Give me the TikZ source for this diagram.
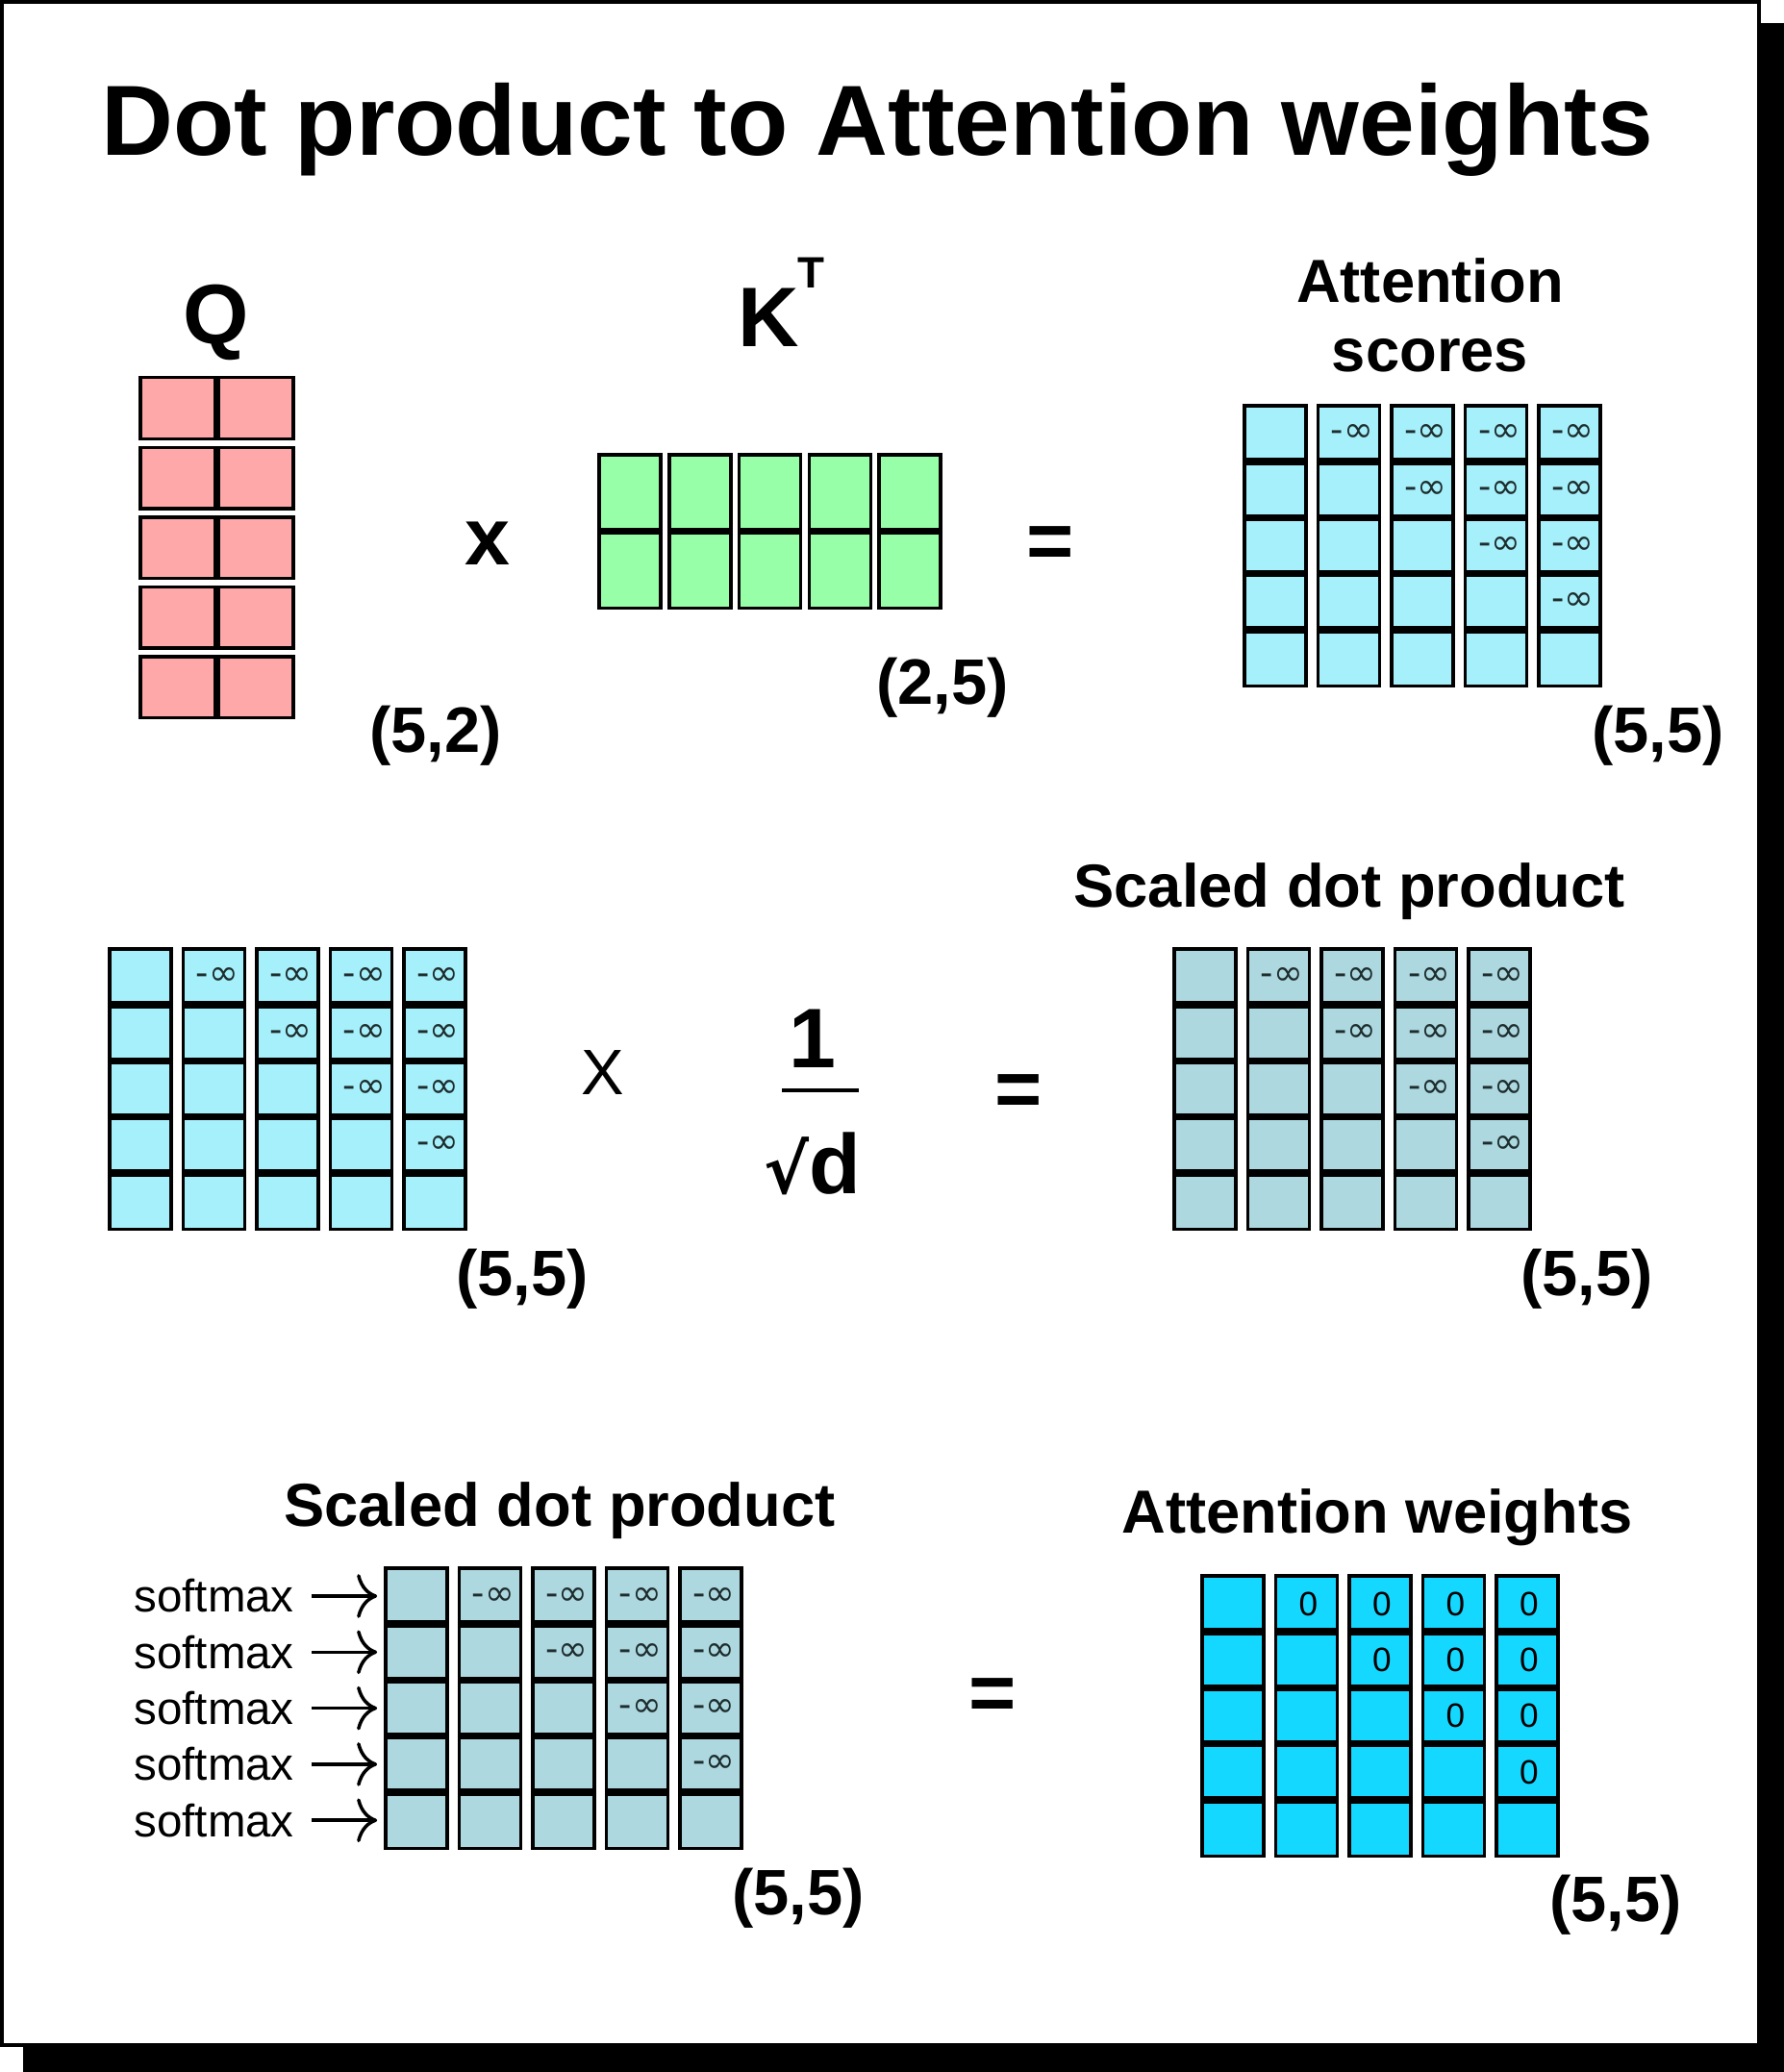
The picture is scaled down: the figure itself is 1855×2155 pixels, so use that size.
\documentclass[tikz,border=0pt]{standalone}
\usepackage{fontspec}
\setmainfont{Liberation Sans}
\newfontfamily\symbfont{DejaVu Sans}
\usetikzlibrary{positioning,arrows.meta}

\definecolor{qpink}{RGB}{255,168,170}
\definecolor{kgreen}{RGB}{150,255,168}
\definecolor{scorecyan}{RGB}{166,240,252}
\definecolor{scaledblue}{RGB}{173,216,224}
\definecolor{weightcyan}{RGB}{20,216,255}
\definecolor{infgray}{RGB}{30,45,45}

\newcommand{\ninf}{\hspace*{2pt}{\symbfont\fontsize{10.5}{12}\selectfont\color{infgray}-∞}}
\newcommand{\zeroent}{\hspace*{1pt}{\fontsize{10}{12}\selectfont 0}}

\begin{document}
\begin{tikzpicture}[x=0.01cm, y=-0.01cm,
    gridcell/.style={draw, line width=1pt, inner sep=0pt, outer sep=0pt, minimum width=0.64cm, minimum height=0.583cm},
    divider/.style={line width=2.1pt},
    heading/.style={font=\bfseries\fontsize{18}{20.5}\selectfont, anchor=base},
    dimlabel/.style={font=\bfseries\fontsize{19}{22}\selectfont},
    bigop/.style={font=\bfseries\fontsize{24}{28}\selectfont, anchor=base},
    smlabel/.style={font=\fontsize{13.5}{16}\selectfont, inner sep=1pt}]

    % card with drop shadow
    \useasboundingbox (0,0) rectangle (1855,2155);
    \fill[black] (24,24) rectangle (1855,2155);
    \draw[line width=1.1pt, fill=white] (2,2) rectangle (1829,2127);

    \node[font=\bfseries\fontsize{29.5}{34}\selectfont, anchor=base] (title) at (912,162) {Dot product to Attention weights};

    % Q x K^T = scores
    \node[font=\bfseries\fontsize{25}{30}\selectfont, anchor=base] (qlabel) at (225,357) {Q};
    \foreach \r in {1,...,5} {
        \foreach \c in {1,2} {
            \node[gridcell, fill=qpink, minimum width=0.795cm, minimum height=0.635cm] (q-\r-\c) at ({185.75+79.5*(\c-1)}, {424.5+72.6*(\r-1)}) {};
        }
        \draw[divider] (q-\r-1.north east) -- (q-\r-1.south east);
    }
    \node[dimlabel] (qdim) at (453,765) {(5,2)};
    \node[bigop] (times1) at (507,587) {x};

    \node[font=\bfseries\fontsize{25}{30}\selectfont, anchor=base west] (klabel) at (755,361) {K\hspace{-0.5pt}\raisebox{17.5pt}{\fontsize{13}{13}\selectfont T}};
    \foreach \c in {1,...,5} {
        \foreach \r in {1,2} {
            \node[gridcell, fill=kgreen, minimum height=0.795cm] (k-\r-\c) at ({655+72.8*(\c-1)}, {513+79.5*(\r-1)}) {};
        }
        \draw[divider] (k-1-\c.south west) -- (k-1-\c.south east);
    }
    \node[dimlabel] (kdim) at (980,715) {(2,5)};
    \node[bigop] (eq1) at (1092,591) {=};

    \node[heading, align=center, anchor=north, inner sep=0pt] (scorehead) at (1487,268) {Attention\\scores};

    % the five 5x5 matrices
    \foreach \m/\mx/\my/\mcol/\mtxt in {sc/1326/451/scorecyan/\ninf, ml/146/1016/scorecyan/\ninf, mr/1253/1016/scaledblue/\ninf, bl/433/1660/scaledblue/\ninf, aw/1282/1668/weightcyan/\zeroent} {
        \foreach \c in {1,...,5} {
            \foreach \r in {1,...,5} {
                \node[gridcell, fill=\mcol] (\m-\r-\c) at ({\mx+76.5*(\c-1)}, {\my+58.3*(\r-1)}) {\ifnum\c>\r\relax\mtxt\fi};
            }
            \foreach \r in {1,...,4} {
                \draw[divider] (\m-\r-\c.south west) -- (\m-\r-\c.south east);
            }
        }
    }
    \node[dimlabel] (scdim) at (1724,765) {(5,5)};

    % scaling by 1/sqrt(d)
    \node[dimlabel] (mldim) at (543,1330) {(5,5)};
    \node[font=\fontsize{19}{22}\selectfont, anchor=base] (times2) at (627,1138) {X};
    \node[font=\bfseries\fontsize{25}{30}\selectfont, anchor=base] (num) at (845,1110) {1};
    \coordinate (barl) at (813,1134);
    \coordinate (barr) at (893,1134);
    \draw[line width=1.2pt] (barl) -- (barr);
    \node[font=\bfseries\fontsize{25}{30}\selectfont, anchor=base] (den) at (845,1241) {{\symbfont\fontsize{20}{24}\selectfont √}d};
    \node[bigop] (eq2) at (1059,1161) {=};
    \node[heading] (midhead) at (1403,943) {Scaled dot product};
    \node[dimlabel] (mrdim) at (1650,1330) {(5,5)};

    % softmax per row
    \node[heading] (lowhead) at (582,1587) {Scaled dot product};
    \foreach \r in {1,...,5} {
        \node[smlabel, left=0.91cm of bl-\r-1] (sm-\r) {softmax};
        \draw[-{To[length=6pt,width=13pt]}, line width=1pt, shorten <=4pt, shorten >=2.5pt] (sm-\r) -- (bl-\r-1);
    }
    \node[dimlabel] (bldim) at (830,1974) {(5,5)};
    \node[bigop] (eq3) at (1032,1789) {=};
    \node[heading] (weighthead) at (1432,1594) {Attention weights};
    \node[dimlabel] (awdim) at (1680,1981) {(5,5)};
\end{tikzpicture}
\end{document}
